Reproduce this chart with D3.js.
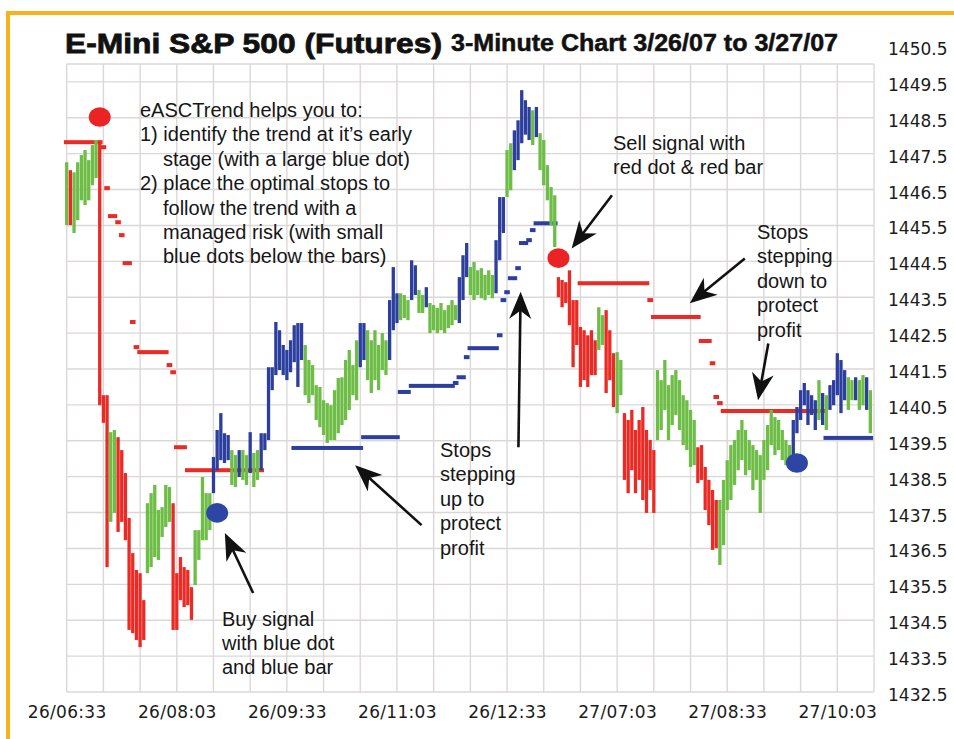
<!DOCTYPE html>
<html>
<head>
<meta charset="utf-8">
<script src="https://cdn.jsdelivr.net/npm/d3@7"></script>
<style>
  body { margin: 0; background: #fff; }
  svg { display: block; }
</style>
</head>
<body>
<script>
// E-Mini S&P 500, 3-minute bars with eASCTrend signals and trailing stops

// x axis: bar numbers that carry a label, and the labels
const xTickBars = [0, 30, 60, 90, 120, 150, 180, 210];
const xLabels = ["26/06:33", "26/08:03", "26/09:33", "26/11:03", "26/12:33", "27/07:03", "27/08:33", "27/10:03"];
const priceTicks = [1432.5, 1433.5, 1434.5, 1435.5, 1436.5, 1437.5, 1438.5, 1439.5, 1440.5,
  1441.5, 1442.5, 1443.5, 1444.5, 1445.5, 1446.5, 1447.5, 1448.5, 1449.5, 1450.5];

// bar highs and lows, 10 per row
const highs = [
  1447.26, 1447.04, 1446.98, 1447.26, 1447.46, 1447.60, 1447.32, 1447.74, 1447.88, 1447.82,
  1440.77, 1440.77, 1439.74, 1439.80, 1439.60, 1439.24, 1438.60, 1437.35, 1436.37, 1435.90,
  1435.81, 1435.06, 1437.76, 1438.04, 1438.27, 1437.57, 1437.65, 1438.27, 1438.21, 1437.76,
  1435.81, 1436.26, 1435.98, 1435.90, 1435.42, 1437.01, 1437.01, 1438.49, 1438.04, 1438.04,
  1439.05, 1439.80, 1440.27, 1439.71, 1439.66, 1439.24, 1439.10, 1439.24, 1439.24, 1439.10,
  1439.74, 1439.16, 1439.24, 1439.71, 1439.71, 1441.55, 1441.55, 1442.81, 1442.58, 1442.17,
  1442.03, 1442.30, 1442.72, 1442.78, 1442.78, 1442.17, 1441.75, 1441.61, 1441.05, 1441.00,
  1440.63, 1440.55, 1440.49, 1440.91, 1441.25, 1441.27, 1441.75, 1442.03, 1441.61, 1442.30,
  1442.78, 1442.78, 1442.58, 1442.30, 1442.58, 1442.17, 1442.50, 1442.30, 1443.42, 1444.34,
  1443.61, 1443.61, 1443.56, 1443.42, 1444.53, 1444.39, 1443.70, 1443.56, 1443.78, 1443.34,
  1443.28, 1443.20, 1443.34, 1443.14, 1443.28, 1443.42, 1443.28, 1444.06, 1444.67, 1445.01,
  1444.34, 1444.48, 1444.25, 1444.31, 1444.12, 1444.25, 1444.12, 1445.09, 1446.29, 1446.29,
  1447.60, 1447.79, 1448.15, 1448.43, 1449.27, 1448.99, 1448.80, 1448.71, 1448.80, 1448.07,
  1447.88, 1447.18, 1446.57, 1446.34, 1444.06, 1443.98, 1443.92, 1444.25, 1443.42, 1443.42,
  1442.67, 1442.58, 1442.44, 1442.58, 1442.30, 1443.22, 1443.00, 1443.14, 1442.58, 1441.94,
  1441.97, 1441.75, 1440.27, 1440.08, 1440.36, 1439.80, 1440.08, 1440.44, 1439.80, 1439.52,
  1439.24, 1441.47, 1441.19, 1441.75, 1441.05, 1441.33, 1441.47, 1441.19, 1440.77, 1440.63,
  1440.36, 1440.08, 1439.32, 1439.38, 1438.77, 1438.41, 1438.13, 1437.85, 1437.85, 1438.41,
  1438.96, 1439.38, 1439.52, 1439.80, 1440.08, 1439.80, 1439.52, 1439.38, 1439.24, 1439.10,
  1439.52, 1439.94, 1440.36, 1440.16, 1440.08, 1439.80, 1439.52, 1439.38, 1440.08, 1440.44,
  1440.91, 1441.11, 1440.91, 1440.77, 1440.63, 1441.19, 1440.83, 1440.77, 1441.05, 1441.19,
  1441.94, 1441.75, 1441.47, 1441.27, 1441.19, 1441.27, 1441.19, 1441.33, 1441.27, 1440.91
];
const lows = [
  1445.51, 1445.51, 1445.29, 1445.65, 1446.20, 1446.07, 1446.20, 1446.62, 1446.82, 1440.49,
  1440.00, 1435.98, 1437.24, 1437.49, 1436.96, 1437.24, 1436.73, 1434.23, 1434.14, 1433.95,
  1433.75, 1433.95, 1435.81, 1435.98, 1436.26, 1436.18, 1436.82, 1437.10, 1437.24, 1434.23,
  1434.23, 1435.06, 1434.87, 1434.92, 1434.51, 1435.48, 1436.18, 1436.73, 1436.73, 1437.01,
  1438.04, 1438.68, 1438.96, 1438.88, 1438.96, 1438.27, 1438.21, 1438.49, 1438.41, 1438.27,
  1438.60, 1438.21, 1438.41, 1438.68, 1439.24, 1439.52, 1440.91, 1441.33, 1441.47, 1441.33,
  1441.19, 1441.41, 1441.69, 1441.00, 1441.75, 1440.77, 1440.55, 1440.77, 1440.08, 1439.88,
  1439.66, 1439.44, 1439.52, 1439.52, 1439.71, 1439.94, 1440.08, 1440.36, 1440.77, 1440.63,
  1441.55, 1441.75, 1441.19, 1440.83, 1441.19, 1440.91, 1441.47, 1441.33, 1441.75, 1442.58,
  1442.78, 1442.86, 1442.92, 1442.86, 1443.42, 1443.56, 1443.06, 1443.06, 1443.22, 1442.50,
  1442.58, 1442.50, 1442.58, 1442.50, 1442.64, 1442.72, 1442.86, 1442.78, 1443.42, 1444.06,
  1443.56, 1443.42, 1443.56, 1443.47, 1443.42, 1443.56, 1443.47, 1443.61, 1444.53, 1445.29,
  1446.29, 1446.48, 1447.04, 1447.32, 1447.79, 1448.03, 1447.88, 1447.74, 1447.96, 1447.04,
  1446.62, 1446.20, 1445.51, 1444.90, 1443.50, 1443.22, 1443.34, 1442.72, 1441.55, 1442.17,
  1441.00, 1441.19, 1441.00, 1441.33, 1441.33, 1442.03, 1442.17, 1440.83, 1441.19, 1440.44,
  1440.27, 1440.77, 1438.41, 1438.04, 1438.68, 1438.04, 1438.41, 1437.85, 1437.49, 1438.13,
  1437.49, 1439.52, 1439.80, 1440.36, 1439.52, 1439.94, 1440.22, 1439.80, 1439.38, 1439.24,
  1438.77, 1438.82, 1438.32, 1438.41, 1437.57, 1437.15, 1436.46, 1436.51, 1436.04, 1436.59,
  1437.57, 1437.85, 1438.27, 1438.68, 1438.96, 1438.54, 1438.68, 1438.13, 1438.41, 1437.49,
  1438.41, 1438.68, 1439.38, 1439.10, 1439.24, 1438.96, 1438.82, 1438.96, 1439.10, 1439.71,
  1440.08, 1440.49, 1439.94, 1440.22, 1439.80, 1440.08, 1439.94, 1439.80, 1440.36, 1440.49,
  1440.77, 1440.27, 1440.63, 1440.36, 1440.63, 1440.63, 1440.36, 1440.49, 1440.36, 1439.71
];
// bar colour codes (g = neutral, r = sell trend, b = buy trend), 10 per block
const barCodes = [
  "grgggggggr", "rrggrrrrrr", "rrgggggggr", "rrrrrggggg", "bbbbbggbgg", "bggbbbbbbb",
  "bbbbbggggg", "gggggggggg", "bbggggggbb", "bgggbbggbg", "gggggggbbb", "gggggggbbb",
  "ggbbbbbgbg", "ggggrrrrrr", "rrrrrggrrr", "ggrrrrrrrr", "rggggggggg", "ggrrrrrrgg",
  "gggggggggg", "ggggggggbb", "bbbbbgbgbb", "bbbggbggbg"
].join("").split("");

// trailing stops: [first bar, last bar, price]
const redStops = [
  [0, 9, 1447.82], [10, 10, 1447.68], [11, 11, 1446.54], [12, 13, 1445.76], [14, 14, 1445.59],
  [15, 15, 1445.23], [16, 17, 1444.45], [18, 18, 1442.81], [19, 19, 1442.11], [20, 27, 1441.97],
  [28, 28, 1441.61], [29, 29, 1441.41], [30, 32, 1439.32], [33, 53, 1438.68],
  [140, 158, 1443.89], [159, 159, 1443.42], [160, 172, 1442.95], [173, 175, 1442.28],
  [176, 176, 1441.66], [177, 177, 1440.72], [178, 178, 1440.55], [179, 206, 1440.33]
];
const blueStops = [
  [62, 80, 1439.30], [81, 90, 1439.60], [91, 93, 1440.86], [94, 105, 1441.03], [106, 106, 1441.11],
  [107, 108, 1441.27], [109, 109, 1441.83], [110, 117, 1442.08], [118, 118, 1442.44],
  [119, 119, 1443.42], [120, 120, 1443.64], [121, 122, 1444.03], [123, 123, 1444.31],
  [124, 125, 1445.01], [126, 126, 1445.09], [127, 127, 1445.37], [128, 133, 1445.56],
  [207, 219, 1439.58]
];

// large signal dots
const signalBar = [9, 41, 134, 199];
const signalPrice = [1448.52, 1437.49, 1444.59, 1438.88];
const signalCode = ["r", "b", "r", "b"];

// annotation arrows: [tail bar, tail price, tip bar, tip price]
const arrows = [
  [50.8, 1435.26, 43.1, 1436.93],
  [96.7, 1437.15, 78.6, 1438.82],
  [123.1, 1439.32, 123.7, 1443.65],
  [148.6, 1446.34, 137.6, 1444.86],
  [184.8, 1444.58, 169.8, 1443.33],
  [191.2, 1442.21, 188.4, 1440.63]
];

const introLines = ["eASCTrend helps you to:", "1) identify the trend at it\u2019s early",
  "stage (with a large blue dot)", "2) place the optimal stops to", "follow the trend with a",
  "managed risk (with small", "blue dots below the bars)"];
const buyLines = ["Buy signal", "with blue dot", "and blue bar"];
const upLines = ["Stops", "stepping", "up to", "protect", "profit"];
const sellLines = ["Sell signal with", "red dot & red bar"];
const downLines = ["Stops", "stepping", "down to", "protect", "profit"];

const palette = { r: "#ea2a24", g: "#6dbd47", b: "#2c3f9e" };
const dotPalette = { r: "#eb2324", b: "#2d46a6" };

const W = 954, H = 739;
const svg = d3.select("body").append("svg").attr("width", W).attr("height", H);

// orange frame, top and left
svg.append("rect").attr("x", 6).attr("y", 11).attr("width", W).attr("height", 4).attr("fill", "#f7b31c");
svg.append("rect").attr("x", 6).attr("y", 11).attr("width", 4).attr("height", H).attr("fill", "#f7b31c");

const x = d3.scaleLinear().domain([0, 220]).range([66.7, 874]);
const y = d3.scaleLinear().domain([1432.5, 1450.5]).range([692, 46]);
const plotTop = y(1450), plotBottom = y(1432.5);

// grid
const grid = svg.append("g").attr("stroke", "#dcd7d7").attr("stroke-width", 1.4);
d3.range(0, 221, 10).forEach(b => {
  grid.append("line").attr("x1", x(b)).attr("x2", x(b)).attr("y1", plotTop).attr("y2", plotBottom);
});
priceTicks.filter(p => p < 1450).concat([1450]).forEach(p => {
  grid.append("line").attr("x1", x(0)).attr("x2", x(220)).attr("y1", y(p)).attr("y2", y(p));
});

// title (thin stroke to get the heavy look of the original face)
svg.append("text").attr("x", 65).attr("y", 53)
  .attr("font-family", "Liberation Sans, Arial, sans-serif").attr("font-weight", "bold")
  .attr("font-size", 28).attr("textLength", 377).attr("lengthAdjust", "spacingAndGlyphs")
  .attr("fill", "#111").attr("stroke", "#111").attr("stroke-width", 0.8)
  .text("E-Mini S&P 500 (Futures)");
svg.append("text").attr("x", 451).attr("y", 51)
  .attr("font-family", "Liberation Sans, Arial, sans-serif").attr("font-weight", "bold")
  .attr("font-size", 23).attr("textLength", 387).attr("lengthAdjust", "spacingAndGlyphs")
  .attr("fill", "#111").attr("stroke", "#111").attr("stroke-width", 0.5)
  .text("3-Minute Chart 3/26/07 to 3/27/07");

// stops
const stopH = 4, half = 2.8;
function drawStops(list, color) {
  svg.append("g").selectAll("rect").data(list).join("rect")
    .attr("x", d => x(d[0]) - half)
    .attr("width", d => x(d[1]) - x(d[0]) + 2 * half)
    .attr("y", d => y(d[2]) - stopH / 2)
    .attr("height", stopH)
    .attr("fill", color);
}
drawStops(redStops, palette.r);
drawStops(blueStops, palette.b);

// bars
svg.append("g").selectAll("rect").data(highs).join("rect")
  .attr("x", (d, i) => x(i) - 1.65)
  .attr("width", 3.3)
  .attr("y", d => y(d))
  .attr("height", (d, i) => Math.max(2, y(lows[i]) - y(d)))
  .attr("fill", (d, i) => palette[barCodes[i]]);

// signal dots
svg.append("g").selectAll("ellipse").data(signalBar).join("ellipse")
  .attr("cx", d => x(d))
  .attr("cy", (d, i) => y(signalPrice[i]))
  .attr("rx", 11).attr("ry", 9.8)
  .attr("fill", (d, i) => dotPalette[signalCode[i]]);

// y axis labels on the right
svg.append("g").attr("transform", "translate(888,0)")
  .call(d3.axisRight(y).tickValues(priceTicks).tickFormat(d3.format(".1f")).tickSize(0).tickPadding(0))
  .call(g => g.select(".domain").remove())
  .call(g => g.selectAll("text")
    .attr("dy", "0.5em")
    .attr("font-family", "DejaVu Sans, Verdana, sans-serif")
    .attr("font-size", 17)
    .attr("fill", "#1b1b1b"));

// x axis labels
svg.append("g").attr("transform", `translate(0,${plotBottom})`)
  .call(d3.axisBottom(x).tickValues(xTickBars).tickFormat((d, i) => xLabels[i]).tickSize(0).tickPadding(14))
  .call(g => g.select(".domain").remove())
  .call(g => g.selectAll("text")
    .attr("font-family", "DejaVu Sans, Verdana, sans-serif")
    .attr("font-size", 17)
    .attr("letter-spacing", 0.3)
    .attr("fill", "#1b1b1b"));

// annotation text
function block(lines, x0, y0, step, indented, indentX) {
  const t = svg.append("g")
    .attr("font-family", "Liberation Sans, Arial, sans-serif")
    .attr("font-size", 20).attr("fill", "#161616");
  lines.forEach((s, i) => {
    t.append("text")
      .attr("x", indented.includes(i) ? indentX : x0)
      .attr("y", y0 + i * step)
      .text(s);
  });
}
block(introLines, 140, 117, 24.4, [2, 4, 5, 6], 163);
block(buyLines, 222, 626, 24, [], 0);
block(upLines, 440, 457, 24.4, [], 0);
block(sellLines, 613, 150, 24, [], 0);
block(downLines, 757, 239, 24.4, [], 0);

// arrows
const arrowG = svg.append("g");
arrows.forEach(([b1, p1, b2, p2]) => {
  const x1 = x(b1), y1 = y(p1), x2 = x(b2), y2 = y(p2);
  const ang = Math.atan2(y2 - y1, x2 - x1);
  const nx = x2 - Math.cos(ang) * 18, ny = y2 - Math.sin(ang) * 18;
  arrowG.append("line")
    .attr("x1", x1).attr("y1", y1).attr("x2", nx).attr("y2", ny)
    .attr("stroke", "#111").attr("stroke-width", 2.6);
  arrowG.append("path")
    .attr("d", "M0,0L-27,-11L-19,0L-27,11Z")
    .attr("transform", `translate(${x2},${y2}) rotate(${ang * 180 / Math.PI})`)
    .attr("fill", "#111");
});
</script>
</body>
</html>
